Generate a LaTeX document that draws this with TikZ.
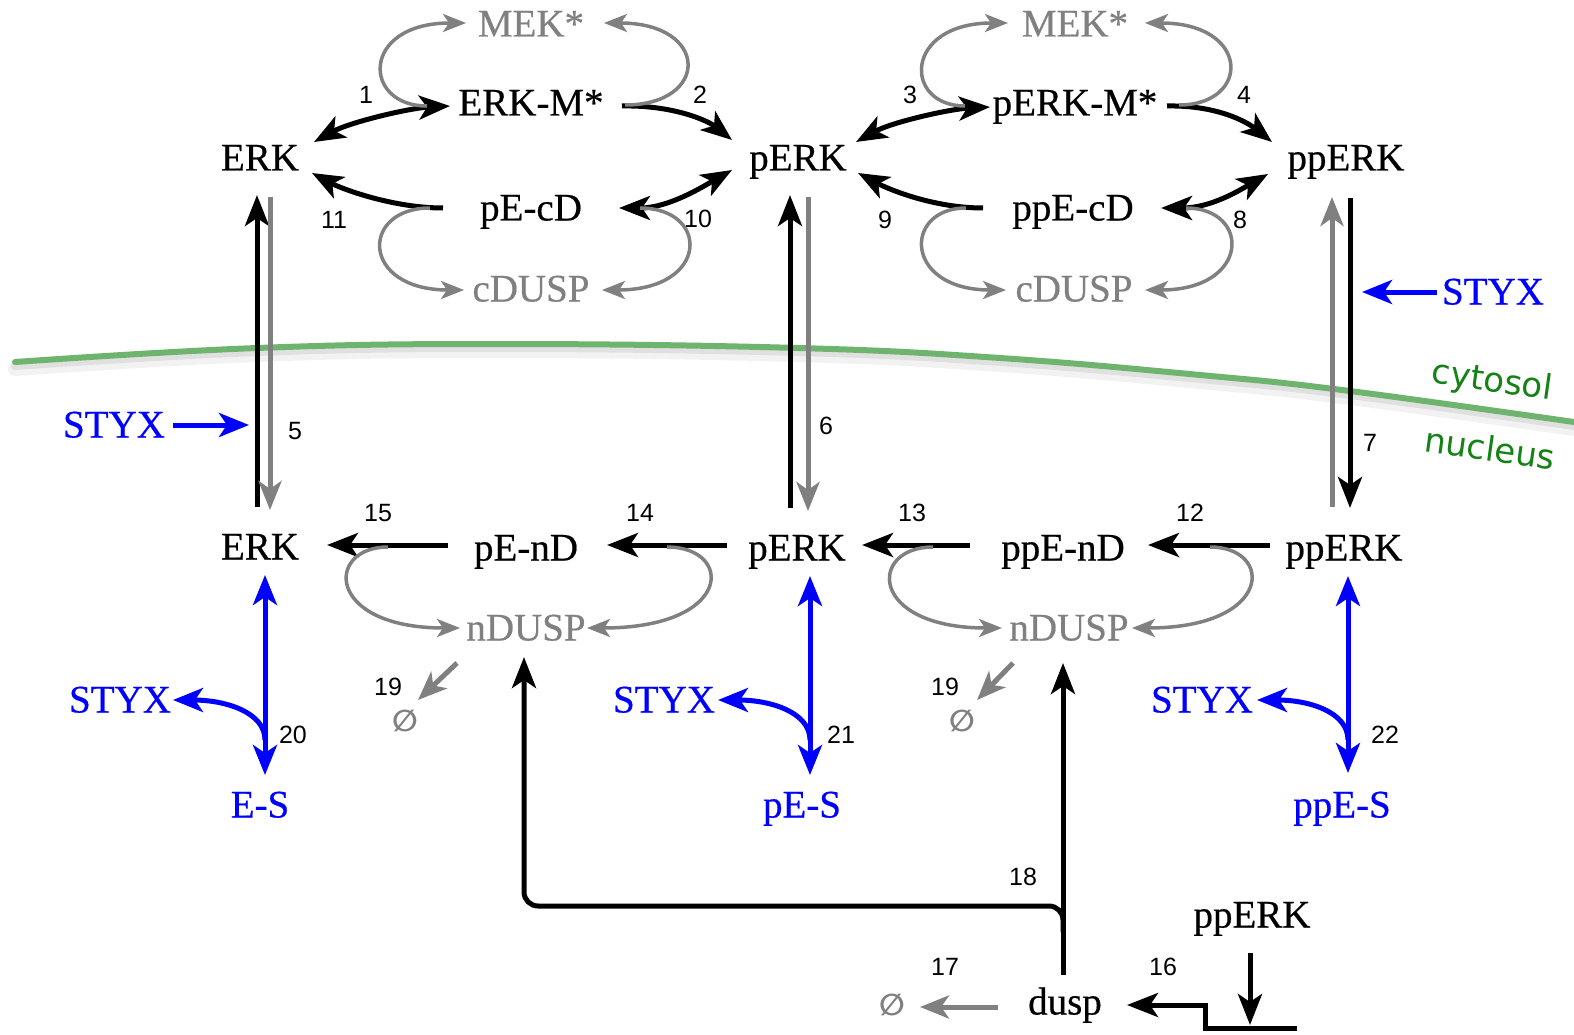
\documentclass[tikz,border=0pt]{standalone}
\usepackage{fontspec}
\setmainfont{Liberation Serif}[UprightFeatures={FakeBold=0.5}]
\newfontfamily\numf{Liberation Sans}
\newfontfamily\dvs{DejaVu Sans}
\usetikzlibrary{arrows.meta,calc}
\definecolor{mygray}{RGB}{128,128,128}
\definecolor{myblue}{RGB}{0,0,255}
\definecolor{memb}{RGB}{110,180,110}
\definecolor{membtext}{RGB}{20,130,20}
\tikzset{
  lab/.style={font=\fontsize{39}{41}\selectfont, inner sep=3pt, text height=25pt, text depth=0pt},
  glab/.style={lab, text=mygray},
  blab/.style={lab, text=myblue},
  num/.style={font=\numf\fontsize{25}{27}\selectfont, inner sep=0pt},
  nul/.style={font=\dvs\bfseries\fontsize{30}{32}\selectfont, text=mygray, inner sep=0pt},
  memtext/.style={font=\dvs\fontsize{34}{36}\selectfont, text=membtext, rotate=-8, inner sep=0pt},
  blkarr/.style={line width=5pt, draw=black, -{Stealth[length=31pt,width=24pt,inset=8pt]}},
  blkboth/.style={line width=5pt, draw=black, {Stealth[length=31pt,width=24pt,inset=8pt]}-{Stealth[length=31pt,width=24pt,inset=8pt]}},
  gryarr/.style={line width=3.5pt, draw=mygray, -{Stealth[length=23pt,width=18pt,inset=6pt]}},
  grythick/.style={line width=5pt, draw=mygray, -{Stealth[length=29pt,width=23pt,inset=8pt]}},
  bluarr/.style={line width=5pt, draw=myblue, -{Stealth[length=30pt,width=24pt,inset=8pt]}},
  bluboth/.style={line width=5pt, draw=myblue, {Stealth[length=30pt,width=24pt,inset=8pt]}-{Stealth[length=30pt,width=24pt,inset=8pt]}},
}
\begin{document}
\begin{tikzpicture}[x=1pt,y=-1pt]
\useasboundingbox (0,0) rectangle (1574,1035);
\fill[white] (0,0) rectangle (1574,1035);

% membrane
\draw[line width=14pt, black, opacity=0.05, line cap=round] plot[smooth, tension=0.7] coordinates {(15,369) (257,355) (500,351) (798,355) (1000,365) (1200,382) (1342,397) (1574,429)};
\draw[line width=8pt, black, opacity=0.07, line cap=round] plot[smooth, tension=0.7] coordinates {(15,366) (257,352) (500,348) (798,352) (1000,362) (1200,379) (1342,394) (1574,426)};
\draw[line width=6pt, memb, line cap=round] plot[smooth, tension=0.7] coordinates {(15,362) (257,348) (500,344) (798,348) (1000,358) (1200,375) (1342,390) (1574,422)};
\node[memtext] (cyto) at (1492,382) {cytosol};
\node[memtext] (nucl) at (1490,448) {nucleus};

% top row nodes
\node[glab] (MEK1) at (531,24) {MEK*};
\node[lab] (ERKM) at (531,103) {ERK-M*};
\node[lab] (ERK1) at (260,158) {ERK};
\node[lab] (PERK1) at (798,158) {pERK};
\node[lab] (PECD) at (531,208) {pE-cD};
\node[glab] (CDUSP1) at (531,289) {cDUSP};
\node[glab] (MEK2) at (1075,24) {MEK*};
\node[lab] (PERKM) at (1075,103) {pERK-M*};
\node[lab] (PPERK1) at (1346,158) {ppERK};
\node[lab] (PPECD) at (1073,208) {ppE-cD};
\node[glab] (CDUSP2) at (1074,289) {cDUSP};
\node[blab] (STYXa) at (1493,292) {STYX};
\node[blab] (STYXb) at (114,425) {STYX};

% nuclear row nodes
\node[lab] (ERK2) at (260,547) {ERK};
\node[lab] (PEND) at (526,548) {pE-nD};
\node[lab] (PERK2) at (797,548) {pERK};
\node[lab] (PPEND) at (1063,548) {ppE-nD};
\node[lab] (PPERK2) at (1344,548) {ppERK};
\node[glab] (NDUSP1) at (526,628) {nDUSP};
\node[glab] (NDUSP2) at (1069,628) {nDUSP};
\node[blab] (STYXc) at (120,700) {STYX};
\node[blab] (STYXd) at (664,700) {STYX};
\node[blab] (STYXe) at (1202,700) {STYX};
\node[blab] (ES) at (260,805) {E-S};
\node[blab] (PES) at (802,805) {pE-S};
\node[blab] (PPES) at (1342,805) {ppE-S};
\node[nul] (NULL1) at (405,721) {∅};
\node[nul] (NULL2) at (962,721) {∅};
\node[nul] (NULL3) at (892,1005) {∅};
\node[lab] (DUSP) at (1065,1002) {dusp};
\node[lab] (PPERK3) at (1252,915) {ppERK};

% numbers
\node[num] (n1) at (366,95) {1};
\node[num] (n2) at (700,95) {2};
\node[num] (n3) at (910,95) {3};
\node[num] (n4) at (1244,95) {4};
\node[num] (n11) at (334,220) {11};
\node[num] (n10) at (698,219) {10};
\node[num] (n9) at (885,220) {9};
\node[num] (n8) at (1240,220) {8};
\node[num] (n5) at (295,431) {5};
\node[num] (n6) at (826,426) {6};
\node[num] (n7) at (1370,443) {7};
\node[num] (n15) at (378,513) {15};
\node[num] (n14) at (640,513) {14};
\node[num] (n13) at (912,513) {13};
\node[num] (n12) at (1190,513) {12};
\node[num] (n19a) at (388,687) {19};
\node[num] (n19b) at (945,687) {19};
\node[num] (n20) at (293,735) {20};
\node[num] (n21) at (841,735) {21};
\node[num] (n22) at (1385,735) {22};
\node[num] (n18) at (1023,877) {18};
\node[num] (n17) at (945,967) {17};
\node[num] (n16) at (1163,967) {16};

% left cytosolic cycle
\draw[blkboth] ($(ERKM)+(-81,3)$) .. controls +(-40,2) and +(36,-20) .. ($(ERK1)+(54,-16)$);
\draw[blkarr] ($(ERKM)+(91,3)$) .. controls +(50,-1) and +(-25,-20) .. ($(PERK1)+(-66,-18)$);
\draw[blkarr] ($(PECD)+(-88,0)$) .. controls +(-50,0) and +(30,16) .. ($(ERK1)+(52,15)$);
\draw[blkboth] ($(PECD)+(88,0)$) .. controls +(50,0) and +(-28,16) .. ($(PERK1)+(-66,12)$);
\draw[gryarr] ($(ERKM)+(-104,3)$) .. controls +(-65,0) and +(-106,0) .. ($(MEK1)+(-65,-1)$);
\draw[gryarr] ($(ERKM)+(94,2)$) .. controls +(85,0) and +(106,0) .. ($(MEK1)+(73,-1)$);
\draw[gryarr] ($(PECD)+(-101,0)$) .. controls +(-70,0) and +(-104,0) .. ($(CDUSP1)+(-67,1)$);
\draw[gryarr] ($(PECD)+(109,0)$) .. controls +(70,0) and +(108,0) .. ($(CDUSP1)+(71,1)$);

% right cytosolic cycle
\draw[blkboth] ($(PERKM)+(-85,4)$) .. controls +(-40,2) and +(36,-20) .. ($(PERK1)+(58,-16)$);
\draw[blkarr] ($(PERKM)+(92,3)$) .. controls +(50,-1) and +(-25,-20) .. ($(PPERK1)+(-74,-16)$);
\draw[blkarr] ($(PPECD)+(-90,0)$) .. controls +(-50,0) and +(30,16) .. ($(PERK1)+(60,15)$);
\draw[blkboth] ($(PPECD)+(88,0)$) .. controls +(50,0) and +(-28,16) .. ($(PPERK1)+(-78,16)$);
\draw[gryarr] ($(PERKM)+(-110,3)$) .. controls +(-62,0) and +(-105,0) .. ($(MEK2)+(-67,-1)$);
\draw[gryarr] ($(PERKM)+(104,2)$) .. controls +(72,0) and +(106,0) .. ($(MEK2)+(70,-1)$);
\draw[gryarr] ($(PPECD)+(-107,0)$) .. controls +(-63,0) and +(-103,0) .. ($(CDUSP2)+(-68,1)$);
\draw[gryarr] ($(PPECD)+(113,0)$) .. controls +(65,0) and +(106,0) .. ($(CDUSP2)+(71,1)$);

% transport
\draw[blkarr] ($(ERK2)+(-3,-40)$) -- ($(ERK1)+(-3,37)$);
\draw[grythick] ($(ERK1)+(10,39)$) -- ($(ERK2)+(10,-37)$);
\draw[blkarr] ($(PERK2)+(-7,-40)$) -- ($(PERK1)+(-8,37)$);
\draw[grythick] ($(PERK1)+(10,39)$) -- ($(PERK2)+(11,-37)$);
\draw[grythick] ($(PPERK2)+(-12,-41)$) -- ($(PPERK1)+(-14,39)$);
\draw[blkarr] ($(PPERK1)+(4,40)$) -- ($(PPERK2)+(6,-40)$);
\coordinate (c5) at (249,425);
\coordinate (c7) at (1362,292);
\draw[bluarr] ($(STYXb)+(59,0)$) -- (c5);
\draw[bluarr] ($(STYXa)+(-56,0)$) -- (c7);

% nuclear row
\draw[blkarr] ($(PEND)+(-78,-3)$) -- ($(ERK2)+(67,-2)$);
\draw[blkarr] ($(PERK2)+(-70,-3)$) -- ($(PEND)+(81,-3)$);
\draw[blkarr] ($(PPEND)+(-93,-3)$) -- ($(PERK2)+(65,-3)$);
\draw[blkarr] ($(PPERK2)+(-74,-3)$) -- ($(PPEND)+(85,-3)$);
\draw[gryarr] ($(PEND)+(-138,-1)$) .. controls +(-63,0) and +(-135,0) .. ($(NDUSP1)+(-66,0)$);
\draw[gryarr] ($(PEND)+(141,-1)$) .. controls +(67,0) and +(147,0) .. ($(NDUSP1)+(61,0)$);
\draw[gryarr] ($(PPEND)+(-130,-1)$) .. controls +(-65,0) and +(-134,0) .. ($(NDUSP2)+(-67,0)$);
\draw[gryarr] ($(PPEND)+(147,-1)$) .. controls +(64,0) and +(142,0) .. ($(NDUSP2)+(63,0)$);
\draw[grythick] ($(NDUSP1)+(-69,35)$) -- ($(NULL1)+(13,-21)$);
\draw[grythick] ($(NDUSP2)+(-56,35)$) -- ($(NULL2)+(15,-21)$);

% STYX complexes
\draw[bluboth] ($(ERK2)+(5,28)$) -- ($(ES)+(5,-30)$);
\draw[bluarr] ($(ES)+(5,-65)$) .. controls +(0,-28) and +(52,0) .. ($(STYXc)+(53,0)$);
\draw[bluboth] ($(PERK2)+(13,28)$) -- ($(PES)+(8,-30)$);
\draw[bluarr] ($(PES)+(8,-65)$) .. controls +(0,-28) and +(52,0) .. ($(STYXd)+(54,0)$);
\draw[bluboth] ($(PPERK2)+(4,28)$) -- ($(PPES)+(6,-32)$);
\draw[bluarr] ($(PPES)+(6,-65)$) .. controls +(0,-28) and +(52,0) .. ($(STYXe)+(55,0)$);

% dusp synthesis and transport
\draw[blkarr] ($(DUSP)+(-2,-27)$) -- ($(NDUSP2)+(-6,35)$);
\draw[blkarr, rounded corners=14pt] ($(DUSP)+(-2,-70)$) -- ($(DUSP)+(-2,-96)$) -| ($(NDUSP1)+(-2,29)$);
\draw[blkarr] ($(PPERK3)+(45,113)$) -- ($(PPERK3)+(-47,113)$) |- ($(DUSP)+(62,3)$);
\draw[blkarr] ($(PPERK3)+(-2,38)$) -- ($(PPERK3)+(-2,110)$);
\draw[grythick] ($(DUSP)+(-67,5)$) -- ($(NULL3)+(28,2)$);
\end{tikzpicture}
\end{document}
